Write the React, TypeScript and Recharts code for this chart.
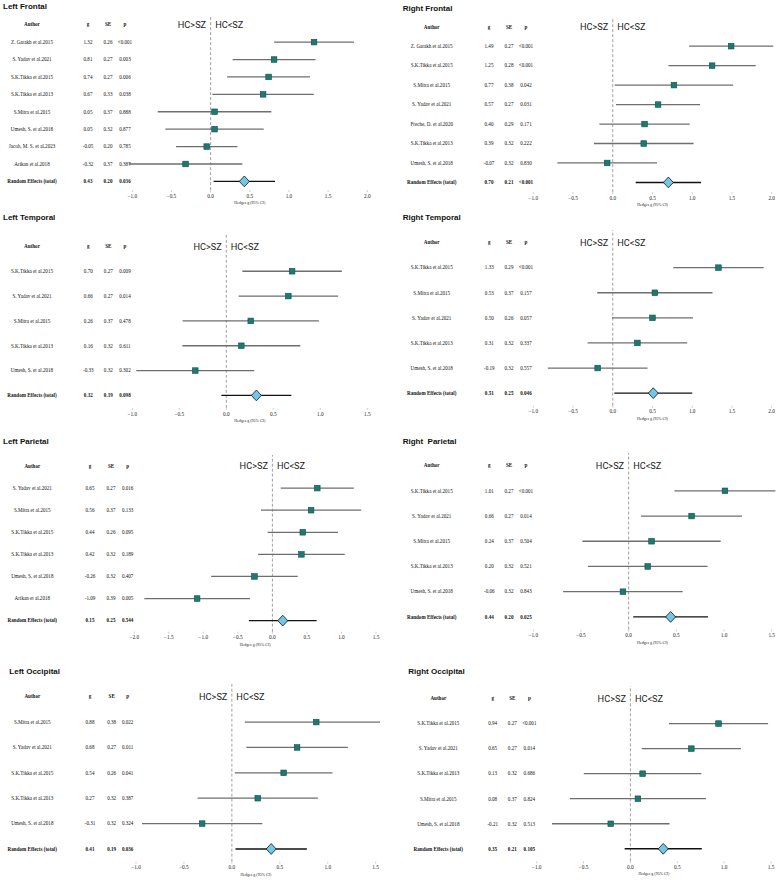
import React from "react";
import {
  ScatterChart,
  Scatter,
  XAxis,
  YAxis,
  ErrorBar,
  ReferenceLine,
  ReferenceDot,
} from "recharts";

// 95% CI half-width multiplier
const Z95 = 1.96;

// Left Frontal
const lfAuthors = [
  "Z. Garakh et al.2015",
  "S. Yadav et al.2021",
  "S.K.Tikka et al.2015",
  "S.K.Tikka et al.2013",
  "S.Mitra et al.2015",
  "Umesh, S. et al.2018",
  "Jacob, M. S. et al.2023",
  "Arikan et al.2018",
];
const lfG = [1.32, 0.81, 0.74, 0.67, 0.05, 0.05, -0.05, -0.32];
const lfSE = [0.26, 0.27, 0.27, 0.33, 0.37, 0.32, 0.2, 0.37];
const lfP = ["<0.001", "0.003", "0.006", "0.038", "0.888", "0.877", "0.785", "0.387"];
const lfTotal = { g: 0.43, se: 0.2, p: "0.036" };

// Right Frontal
const rfAuthors = [
  "Z. Garakh et al.2015",
  "S.K.Tikka et al.2015",
  "S.Mitra et al.2015",
  "S. Yadav et al.2021",
  "Freche, D. et al.2020",
  "S.K.Tikka et al.2013",
  "Umesh, S. et al.2018",
];
const rfG = [1.49, 1.25, 0.77, 0.57, 0.4, 0.39, -0.07];
const rfSE = [0.27, 0.28, 0.38, 0.27, 0.29, 0.32, 0.32];
const rfP = ["<0.001", "<0.001", "0.042", "0.031", "0.171", "0.222", "0.830"];
const rfTotal = { g: 0.7, se: 0.21, p: "<0.001" };

// Left Temporal
const ltAuthors = [
  "S.K.Tikka et al.2015",
  "S. Yadav et al.2021",
  "S.Mitra et al.2015",
  "S.K.Tikka et al.2013",
  "Umesh, S. et al.2018",
];
const ltG = [0.7, 0.66, 0.26, 0.16, -0.33];
const ltSE = [0.27, 0.27, 0.37, 0.32, 0.32];
const ltP = ["0.009", "0.014", "0.478", "0.611", "0.302"];
const ltTotal = { g: 0.32, se: 0.19, p: "0.098" };

// Right Temporal
const rtAuthors = [
  "S.K.Tikka et al.2015",
  "S.Mitra et al.2015",
  "S. Yadav et al.2021",
  "S.K.Tikka et al.2013",
  "Umesh, S. et al.2018",
];
const rtG = [1.33, 0.53, 0.5, 0.31, -0.19];
const rtSE = [0.29, 0.37, 0.26, 0.32, 0.32];
const rtP = ["<0.001", "0.157", "0.057", "0.337", "0.557"];
const rtTotal = { g: 0.51, se: 0.25, p: "0.046" };

// Left Parietal
const lpAuthors = [
  "S. Yadav et al.2021",
  "S.Mitra et al.2015",
  "S.K.Tikka et al.2015",
  "S.K.Tikka et al.2013",
  "Umesh, S. et al.2018",
  "Arikan et al.2018",
];
const lpG = [0.65, 0.56, 0.44, 0.42, -0.26, -1.09];
const lpSE = [0.27, 0.37, 0.26, 0.32, 0.32, 0.39];
const lpP = ["0.016", "0.133", "0.095", "0.189", "0.407", "0.005"];
const lpTotal = { g: 0.15, se: 0.25, p: "0.544" };

// Right Parietal
const rpAuthors = [
  "S.K.Tikka et al.2015",
  "S. Yadav et al.2021",
  "S.Mitra et al.2015",
  "S.K.Tikka et al.2013",
  "Umesh, S. et al.2018",
];
const rpG = [1.01, 0.66, 0.24, 0.2, -0.06];
const rpSE = [0.27, 0.27, 0.37, 0.32, 0.32];
const rpP = ["<0.001", "0.014", "0.504", "0.521", "0.843"];
const rpTotal = { g: 0.44, se: 0.2, p: "0.025" };

// Left Occipital
const loAuthors = [
  "S.Mitra et al.2015",
  "S. Yadav et al.2021",
  "S.K.Tikka et al.2015",
  "S.K.Tikka et al.2013",
  "Umesh, S. et al.2018",
];
const loG = [0.88, 0.68, 0.54, 0.27, -0.31];
const loSE = [0.38, 0.27, 0.26, 0.32, 0.32];
const loP = ["0.022", "0.011", "0.041", "0.387", "0.324"];
const loTotal = { g: 0.41, se: 0.19, p: "0.036" };

// Right Occipital
const roAuthors = [
  "S.K.Tikka et al.2015",
  "S. Yadav et al.2021",
  "S.K.Tikka et al.2013",
  "S.Mitra et al.2015",
  "Umesh, S. et al.2018",
];
const roG = [0.94, 0.65, 0.13, 0.08, -0.21];
const roSE = [0.27, 0.27, 0.32, 0.37, 0.32];
const roP = ["<0.001", "0.014", "0.686", "0.824", "0.513"];
const roTotal = { g: 0.35, se: 0.21, p: "0.105" };

const ticksTo2 = [-1, -0.5, 0, 0.5, 1, 1.5, 2];
const ticksTo15 = [-1, -0.5, 0, 0.5, 1, 1.5];
const ticksFromMinus2 = [-2, -1.5, -1, -0.5, 0, 0.5, 1, 1.5];

const SERIF = '"Liberation Serif", "Times New Roman", serif';
const SANS = '"Liberation Sans", Arial, sans-serif';

interface Layout {
  title: string;
  colX: number;
  titleX: number;
  titleY: number;
  plotLeft: number;
  plotRight: number;
  yHeader: number;
  yTotal: number;
  cols: number[];
  domain: [number, number];
  ticks: number[];
}

interface PanelProps {
  layout: Layout;
  authors: string[];
  g: number[];
  se: number[];
  p: string[];
  total: { g: number; se: number; p: string };
}

const fmtTick = (v: number) => (v < 0 ? "\u2212" : "") + Math.abs(v).toFixed(1);

const squareShape = (props: any) => (
  <rect
    x={props.cx - 2.8}
    y={props.cy - 2.8}
    width={5.6}
    height={5.6}
    fill="#1d7a72"
    stroke="#0f4f4a"
    strokeWidth={0.6}
  />
);

const diamondShape = (props: any) => {
  const { cx, cy } = props;
  return (
    <polygon
      points={`${cx},${cy - 5.4} ${cx + 5},${cy} ${cx},${cy + 5.4} ${cx - 5},${cy}`}
      fill="#74c6e8"
      stroke="#111"
      strokeWidth={0.8}
    />
  );
};

const hcShape = (props: any) => (
  <g fontFamily="Roboto, sans-serif" fontSize={9.2} fill="#222">
    <text x={props.cx - 4.5} y={props.cy} dy="0.36em" textAnchor="end">
      HC&gt;SZ
    </text>
    <text x={props.cx + 4.5} y={props.cy} dy="0.36em" textAnchor="start">
      HC&lt;SZ
    </text>
  </g>
);

function ForestPanel({ layout, authors, g, se, p, total }: PanelProps) {
  const n = authors.length;
  const step = (layout.yTotal - layout.yHeader) / (n + 1);
  const plotTop = layout.yHeader - step / 2;
  const plotBottom = layout.yTotal + step / 2;
  const mTop = 2;
  const mBottom = 2;
  const mRight = 4;
  const xAxisH = 15;
  const top = plotTop - mTop;
  const height = plotBottom + xAxisH + mBottom - top;
  const width = layout.plotRight + mRight - layout.colX;
  const yAxisW = layout.plotLeft - layout.colX;

  const studies = authors.map((_, i) => ({ row: i + 1, g: g[i], err: Z95 * se[i] }));
  const pooled = [{ row: n + 1, g: total.g, err: Z95 * total.se }];

  const cells: string[][] = [
    ["Author", "g", "SE", "p"],
    ...authors.map((a, i) => [a, g[i].toFixed(2), se[i].toFixed(2), p[i]]),
    ["Random Effects (total)", total.g.toFixed(2), total.se.toFixed(2), total.p],
  ];
  const rowTicks = cells.map((_, i) => i);

  const RowTick = (props: any) => {
    const row = props.payload.value;
    const c = cells[row];
    if (!c) return null;
    const bold = row === 0 || row === n + 1;
    return (
      <g>
        {c.map((t, k) => (
          <text
            key={k}
            x={layout.cols[k] - layout.colX}
            y={props.y}
            dy="0.35em"
            textAnchor="middle"
            fontFamily={SERIF}
            fontSize={5.1}
            fontWeight={bold ? 700 : 400}
            fill="#111"
          >
            {t}
          </text>
        ))}
      </g>
    );
  };

  return (
    <>
      <div
        style={{
          position: "absolute",
          left: layout.titleX,
          top: layout.titleY - 5,
          fontFamily: SANS,
          fontWeight: 700,
          fontSize: 8,
          lineHeight: "10px",
          whiteSpace: "pre",
          color: "#111",
        }}
      >
        {layout.title}
      </div>
      <div style={{ position: "absolute", left: layout.colX, top }}>
        <ScatterChart
          width={width}
          height={height}
          margin={{ top: mTop, right: mRight, bottom: mBottom, left: 0 }}
        >
          <XAxis
            type="number"
            dataKey="g"
            domain={layout.domain}
            ticks={layout.ticks}
            allowDataOverflow
            axisLine={false}
            tickLine={{ stroke: "#999", strokeWidth: 0.5 }}
            tickSize={2}
            tickMargin={2}
            tickFormatter={fmtTick}
            tick={{ fontSize: 5.3, fontFamily: SERIF, fill: "#222" }}
            height={xAxisH}
            label={{
              value: "Hedges g (95% CI)",
              position: "insideBottom",
              offset: 1,
              fontSize: 4,
              fontFamily: SERIF,
              fill: "#222",
            }}
          />
          <YAxis
            type="number"
            dataKey="row"
            domain={[-0.5, n + 1.5]}
            reversed
            ticks={rowTicks}
            interval={0}
            axisLine={false}
            tickLine={false}
            width={yAxisW}
            tick={<RowTick />}
          />
          <ReferenceLine x={0} stroke="#888" strokeWidth={0.8} strokeDasharray="3 2" />
          <ReferenceDot x={0} y={0} r={1} shape={hcShape} />
          <Scatter data={studies} shape={squareShape} isAnimationActive={false}>
            <ErrorBar dataKey="err" direction="x" width={0} stroke="#6e6e6e" strokeWidth={1.3} />
          </Scatter>
          <Scatter data={pooled} shape={diamondShape} isAnimationActive={false}>
            <ErrorBar dataKey="err" direction="x" width={0} stroke="#111" strokeWidth={1.4} />
          </Scatter>
        </ScatterChart>
      </div>
    </>
  );
}

const lfLayout: Layout = {
  title: "Left Frontal", colX: 0, titleX: 3, titleY: 7,
  plotLeft: 132.3, plotRight: 367.3, yHeader: 25, yTotal: 181.7,
  cols: [32, 88, 108, 125], domain: [-1, 2], ticks: ticksTo2,
};
const rfLayout: Layout = {
  title: "Right Frontal", colX: 390, titleX: 402.7, titleY: 9.3,
  plotLeft: 533.3, plotRight: 771.7, yHeader: 27, yTotal: 182.7,
  cols: [431.7, 489, 509, 526], domain: [-1, 2], ticks: ticksTo2,
};
const ltLayout: Layout = {
  title: "Left Temporal", colX: 0, titleX: 3, titleY: 218.3,
  plotLeft: 132.3, plotRight: 367.3, yHeader: 246, yTotal: 395,
  cols: [32, 88.3, 108.3, 125], domain: [-1, 1.5], ticks: ticksTo15,
};
const rtLayout: Layout = {
  title: "Right Temporal", colX: 390, titleX: 402.7, titleY: 218.3,
  plotLeft: 533.3, plotRight: 771.7, yHeader: 242.7, yTotal: 393.3,
  cols: [431.7, 489.3, 509, 526], domain: [-1, 2], ticks: ticksTo2,
};
const lpLayout: Layout = {
  title: "Left Parietal", colX: 0, titleX: 3, titleY: 442.3,
  plotLeft: 134.3, plotRight: 376, yHeader: 465.7, yTotal: 620.3,
  cols: [32.3, 90, 111, 127.7], domain: [-2, 1.5], ticks: ticksFromMinus2,
};
const rpLayout: Layout = {
  title: "Right  Parietal", colX: 390, titleX: 402.7, titleY: 441.7,
  plotLeft: 533.3, plotRight: 771.7, yHeader: 466, yTotal: 617.3,
  cols: [431.7, 489.3, 509, 526], domain: [-1, 1.5], ticks: ticksTo15,
};
const loLayout: Layout = {
  title: "Left Occipital", colX: 0, titleX: 9.3, titleY: 671.7,
  plotLeft: 136, plotRight: 375.7, yHeader: 696.7, yTotal: 849,
  cols: [32.3, 90, 111.7, 127.7], domain: [-1, 1.5], ticks: ticksTo15,
};
const roLayout: Layout = {
  title: "Right Occipital", colX: 390, titleX: 408.3, titleY: 671.7,
  plotLeft: 536.7, plotRight: 771, yHeader: 699, yTotal: 849.3,
  cols: [438.3, 492.7, 512.3, 529.3], domain: [-1, 1.5], ticks: ticksTo15,
};

export default function App() {
  return (
    <div
      style={{
        position: "absolute",
        left: 0,
        top: 0,
        width: 779,
        height: 880,
        background: "#fff",
        overflow: "hidden",
      }}
    >
      <ForestPanel layout={lfLayout} authors={lfAuthors} g={lfG} se={lfSE} p={lfP} total={lfTotal} />
      <ForestPanel layout={rfLayout} authors={rfAuthors} g={rfG} se={rfSE} p={rfP} total={rfTotal} />
      <ForestPanel layout={ltLayout} authors={ltAuthors} g={ltG} se={ltSE} p={ltP} total={ltTotal} />
      <ForestPanel layout={rtLayout} authors={rtAuthors} g={rtG} se={rtSE} p={rtP} total={rtTotal} />
      <ForestPanel layout={lpLayout} authors={lpAuthors} g={lpG} se={lpSE} p={lpP} total={lpTotal} />
      <ForestPanel layout={rpLayout} authors={rpAuthors} g={rpG} se={rpSE} p={rpP} total={rpTotal} />
      <ForestPanel layout={loLayout} authors={loAuthors} g={loG} se={loSE} p={loP} total={loTotal} />
      <ForestPanel layout={roLayout} authors={roAuthors} g={roG} se={roSE} p={roP} total={roTotal} />
    </div>
  );
}
